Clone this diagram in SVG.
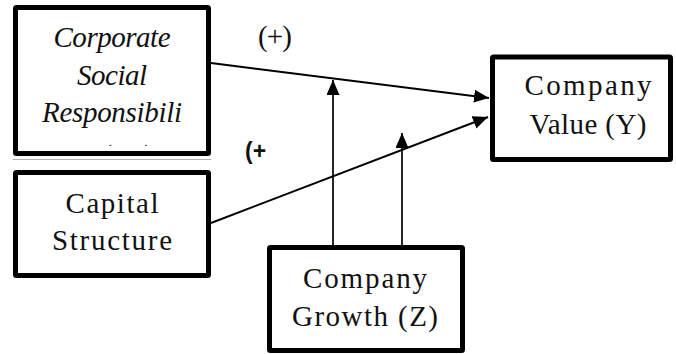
<svg xmlns="http://www.w3.org/2000/svg" width="676" height="354" viewBox="0 0 676 354">
<style>
.box{fill:#fff;stroke:#000;stroke-width:5;}
.t{font-family:"Liberation Serif","Times New Roman",serif;font-size:29px;fill:#111;text-anchor:middle;}
.i{font-style:italic;}
.c{stroke:#000;fill:none;}
</style>
<defs>
<marker id="ah" markerUnits="userSpaceOnUse" markerWidth="16" markerHeight="14" refX="15" refY="6.5" orient="auto">
<path d="M0,0 L15,6.5 L0,13 Z" fill="#000"/>
</marker>
<clipPath id="clip1"><rect x="17" y="10" width="190" height="136"/></clipPath>
</defs>
<rect width="676" height="354" fill="#fff"/>
<g id="connectors">
<line class="c" x1="211" y1="63" x2="489" y2="98" stroke-width="2" marker-end="url(#ah)"/>
<line class="c" x1="211" y1="223" x2="488" y2="117" stroke-width="2" marker-end="url(#ah)"/>
<line class="c" x1="333" y1="245" x2="333" y2="80" stroke-width="1.7" marker-end="url(#ah)"/>
<line class="c" x1="402" y1="245" x2="402" y2="133" stroke-width="1.7" marker-end="url(#ah)"/>
</g>
<g id="csr">
<rect class="box" x="15.5" y="7.5" width="193" height="146" rx="1"/>
<text class="t i" x="112" y="47" font-size="27" textLength="117">Corporate</text>
<text class="t i" x="112" y="85" font-size="27" textLength="70">Social</text>
<text class="t i" x="112" y="122" font-size="27" textLength="140">Responsibili</text>
<text class="t i" x="126" y="165" font-size="27" clip-path="url(#clip1)">(X1)</text>
<line x1="13" y1="159.5" x2="211" y2="159.5" stroke="#b0b0b0" stroke-width="1"/>
</g>
<g id="capital">
<rect class="box" x="15.5" y="172.5" width="193" height="103" rx="1"/>
<text class="t" x="112" y="213" textLength="93">Capital</text>
<text class="t" x="112" y="250" textLength="120">Structure</text>
</g>
<g id="value">
<rect class="box" x="492.5" y="57" width="178" height="102.5" rx="1"/>
<text class="t" x="588" y="95" textLength="127">Company</text>
<text class="t" x="588" y="134" textLength="117">Value (Y)</text>
</g>
<g id="growth">
<rect class="box" x="269.5" y="247.5" width="193" height="103" rx="1"/>
<text class="t" x="365" y="288" textLength="124">Company</text>
<text class="t" x="365" y="326" textLength="146">Growth (Z)</text>
</g>
<g id="labels">
<text class="t" x="275" y="46" font-size="25" textLength="34">(+)</text>
<text x="245" y="159" font-family="Liberation Sans, Arial, sans-serif" font-weight="bold" font-size="23" fill="#111">(+</text>
</g>
</svg>
